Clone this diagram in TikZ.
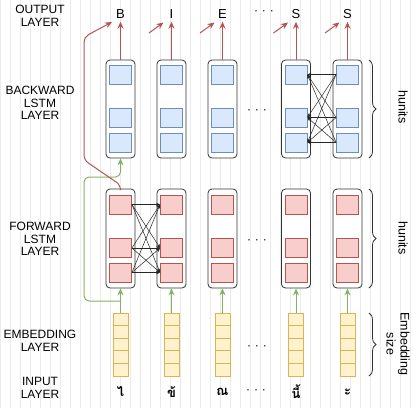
\documentclass[tikz,border=0pt]{standalone}
\usepackage{fontspec}
\setmainfont{Liberation Sans}
\newfontfamily\thaifont[Script=Thai]{Loma}
\usetikzlibrary{arrows.meta,decorations.pathreplacing}
\definecolor{bfill}{HTML}{DAE8FC}
\definecolor{bline}{HTML}{6C8EBF}
\definecolor{rfill}{HTML}{F8CECC}
\definecolor{rline}{HTML}{B85450}
\definecolor{yfill}{HTML}{FFF2CC}
\definecolor{yline}{HTML}{D6B656}
\definecolor{gline}{HTML}{82B366}
\definecolor{gridc}{HTML}{EBEBEB}
\definecolor{boxline}{HTML}{333333}
\begin{document}
\begin{tikzpicture}[x=1pt,y=-1pt,
  gridline/.style={draw=gridc,line width=0.7pt},
  cellbox/.style={draw=boxline,fill=white,rounded corners=4pt,line width=0.8pt,minimum width=29pt,inner sep=0pt},
  bsq/.style={draw=bline,fill=bfill,line width=0.8pt,minimum width=22pt,minimum height=19pt,inner sep=0pt},
  rsq/.style={draw=rline,fill=rfill,line width=0.8pt,minimum width=22pt,minimum height=19pt,inner sep=0pt},
  ysq/.style={draw=yline,fill=yfill,line width=0.8pt,minimum width=15pt,minimum height=12.6pt,inner sep=0pt},
  lbl/.style={align=center,font=\fontsize{12}{12.5}\selectfont,inner sep=0pt},
  outlbl/.style={font=\fontsize{13}{14}\selectfont,inner sep=0pt},
  dotlbl/.style={font=\fontsize{12}{13}\selectfont,inner sep=0pt},
  thlbl/.style={font=\thaifont\bfseries\fontsize{13}{14}\selectfont,inner sep=0pt},
  redarr/.style={draw=rline,line width=1pt,-{Stealth[length=7pt,width=6pt]}},
  grnarr/.style={draw=gline,line width=1pt,-{Stealth[length=7pt,width=6pt]}},
  blkarr/.style={draw=black!85,line width=0.5pt,-{Stealth[length=4pt,width=3.5pt]}},
  bracestyle/.style={draw=black!80,line width=0.8pt,decorate,decoration={brace,amplitude=7pt}},
  rotlbl/.style={rotate=-90,align=center,font=\fontsize{12.5}{14}\selectfont,inner sep=0pt}
]
\useasboundingbox (0,0) rectangle (418,408);
\draw[gridline] (0,0) grid[step=10] (418,408);

% left labels
\node[lbl] (lout) at (40,16) {OUTPUT\\LAYER};
\node[lbl] (lbw) at (40,103) {BACKWARD\\LSTM\\LAYER};
\node[lbl] (lfw) at (40,239) {FORWARD\\LSTM\\LAYER};
\node[lbl] (lemb) at (40,341) {EMBEDDING\\LAYER};
\node[lbl] (lin) at (40,388) {INPUT\\LAYER};

% columns
\foreach \i/\x/\ch/\th in {1/120.5/B/ไ,2/171.5/I/ข้,3/222.5/E/ณ,4/296/S/นี้,5/347.5/S/ะ}{
  \node[cellbox,minimum height=98pt] (b\i) at (\x,109) {};
  \node[bsq] (b\i s1) at (\x,74.5) {};
  \node[bsq] (b\i s2) at (\x,117.5) {};
  \node[bsq] (b\i s3) at (\x,142.5) {};
  \node[cellbox,minimum height=99pt] (f\i) at (\x,238.5) {};
  \node[rsq] (f\i s1) at (\x,204.5) {};
  \node[rsq] (f\i s2) at (\x,248) {};
  \node[rsq] (f\i s3) at (\x,272.5) {};
  \foreach \k in {0,...,4}{
    \node[ysq] (e\i-\k) at (\x,{319.3+12.6*\k}) {};
  }
  \node[outlbl] (o\i) at (\x,14) {\ch};
  \node[thlbl] (t\i) at (\x,392) {\th};
  \draw[redarr] (b\i.north) -- ([yshift=-3pt]o\i.south);
  \draw[grnarr] (e\i-0.north) -- (f\i.south);
}

% small diagonal output arrows
\foreach \i/\x in {2/171.5,3/222.5,4/296,5/347.5}{
  \coordinate (d\i a) at (\x-22.5,33);
  \coordinate (d\i b) at (\x-8,22.5);
  \draw[redarr] (d\i a) -- (d\i b);
}

% dots
\node[dotlbl] (dout) at (264,13) {·\hspace{4pt}·\hspace{4pt}·};
\node[dotlbl] (dbw) at (257,112) {·\hspace{4pt}·\hspace{4pt}·};
\node[dotlbl] (dfw) at (257,242) {·\hspace{4pt}·\hspace{4pt}·};
\node[dotlbl] (demb) at (257,348) {·\hspace{4pt}·\hspace{4pt}·};
\node[dotlbl] (din) at (256,392) {·\hspace{4pt}·\hspace{4pt}·};

% recurrent connections
\foreach \s in {1,2,3}{
  \foreach \t in {1,2,3}{
    \draw[blkarr] (f1s\s.east) -- (f2s\t.west);
    \draw[blkarr] (b5s\s.west) -- (b4s\t.east);
  }
}

% skip connections from column 1
\coordinate (gj) at (120.5,301);
\draw[grnarr,rounded corners=5pt] (gj) -- (84,301) -- (84,177) -- (120.5,177) -- (b1.south);
\coordinate (rt) at (112,22);
\draw[redarr,rounded corners=5pt] (f1.north) -- (120.5,185) -- (84,160) -- (84,37) -- (rt);

% braces
\draw[bracestyle] (369,60) -- (369,158);
\draw[bracestyle] (369,189) -- (369,288);
\draw[bracestyle] (369,313) -- (369,376);
\node[rotlbl] (hb) at (403,107) {hunits};
\node[rotlbl] (hf) at (403,238) {hunits};
\node[rotlbl] (hemb) at (398,344) {Embedding\\size};
\end{tikzpicture}
\end{document}
